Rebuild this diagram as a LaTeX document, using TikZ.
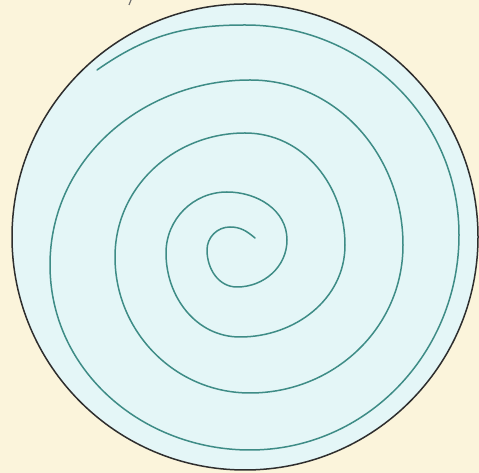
\documentclass[tikz,border=0pt]{standalone}
\definecolor{bgcream}{HTML}{FBF4DB}
\definecolor{disc}{HTML}{E4F6F7}
\definecolor{rim}{HTML}{2E2E2E}
\definecolor{teal}{HTML}{3E8C86}
\tikzset{
  spiral/.style={draw=teal, line width=1.5pt, line cap=round, line join=round},
  plate/.style={fill=disc, draw=rim, line width=1.5pt},
}
\begin{document}
\begin{tikzpicture}[x=1pt,y=1pt]
\fill[bgcream] (0,0) rectangle (479,473);
\useasboundingbox (0,0) rectangle (479,473);
\coordinate (c) at (245,236);
\path[plate] (c) circle[radius=233];
\draw[rim!70, line width=1.2pt] (131,473) -- (129,468);
\draw[spiral] (255,235) to[out=140,in=0] (230,246)
  to[out=180,in=90] (207,223) to[out=270,in=180] (237,186)
  to[out=0,in=270] (287,233) to[out=90,in=0] (227,281)
  to[out=180,in=90] (166,220) to[out=270,in=180] (240,136)
  to[out=0,in=270] (345,228) to[out=90,in=0] (245,340)
  to[out=180,in=90] (115,216) to[out=270,in=180] (250,80)
  to[out=0,in=270] (403,228) to[out=90,in=0] (250,393)
  to[out=180,in=90] (50,208) to[out=270,in=180] (250,23)
  to[out=0,in=270] (459,238) to[out=90,in=0] (245,448)
  to[out=180,in=35] (97,403);
\end{tikzpicture}
\end{document}
